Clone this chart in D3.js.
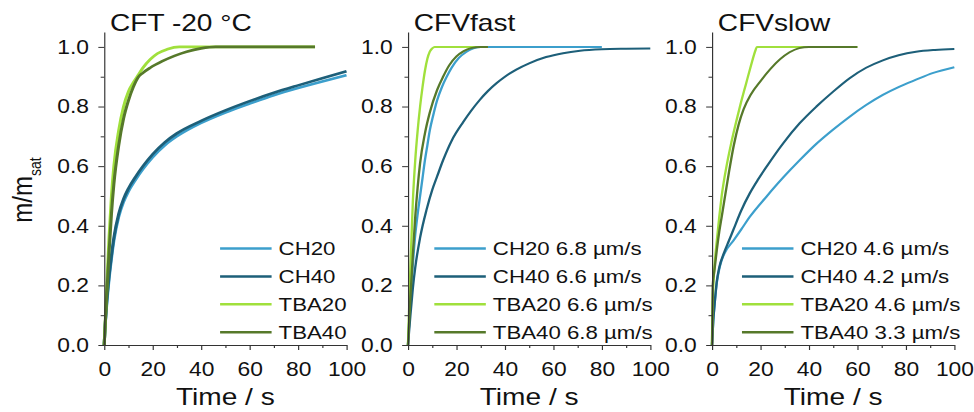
<!DOCTYPE html>
<html>
<head>
<meta charset="utf-8">
<script src="https://cdn.jsdelivr.net/npm/d3@7"></script>
<style>
  body { margin: 0; background: #fff; }
</style>
</head>
<body>
<div id="chart"></div>
<script>
const seriesNames = ["CH20", "CH40", "TBA20", "TBA40"]
const seriesColors = ["#3c9fcc", "#1d5f79", "#a0e03c", "#56792a"]
const panelTitles = ["CFT -20 °C", "CFVfast", "CFVslow"]
const legendLabels = [
    ["CH20", "CH40", "TBA20", "TBA40"],
    ["CH20 6.8 µm/s", "CH40 6.6 µm/s", "TBA20 6.6 µm/s", "TBA40 6.8 µm/s"],
    ["CH20 4.6 µm/s", "CH40 4.2 µm/s", "TBA20 4.6 µm/s", "TBA40 3.3 µm/s"],
]
const xTicks = [0, 20, 40, 60, 80, 100]
const xMinor = [10, 30, 50, 70, 90]
const yTicks = [0, 0.2, 0.4, 0.6, 0.8, 1.0]
const yMinor = [0.1, 0.3, 0.5, 0.7, 0.9]

// [time (s), m/m_sat]
const cftCH20 = [[0,0],[0.3,0.05],[1,0.13],[2,0.22],[3,0.29],[4,0.35],[6,0.43],[8,0.48],[10,0.515],[13,0.555],[16,0.59],[20,0.63],[25,0.67],[30,0.70],[40,0.745],[50,0.78],[60,0.81],[70,0.838],[80,0.862],[90,0.884],[100,0.905]]
const cftCH40 = [[0,0],[0.3,0.05],[1,0.14],[2,0.23],[3,0.3],[4,0.36],[6,0.44],[8,0.49],[10,0.525],[13,0.565],[16,0.6],[20,0.64],[25,0.68],[30,0.71],[40,0.752],[50,0.787],[60,0.818],[70,0.846],[80,0.871],[90,0.895],[100,0.918]]
const cftTBA20 = [[0,0],[1,0.18],[2,0.36],[3,0.5],[4,0.6],[6,0.72],[8,0.8],[10,0.85],[12,0.88],[14,0.905],[16,0.93],[19,0.958],[22,0.978],[26,0.992],[31,1],[87,1]]
const cftTBA40 = [[0,0],[1,0.16],[2,0.31],[3,0.44],[4,0.54],[6,0.67],[8,0.76],[10,0.82],[12,0.865],[14,0.898],[16,0.913],[19,0.93],[24,0.952],[29,0.97],[34,0.984],[40,0.995],[46,1],[87,1]]

const fastCH20 = [[0,0],[1,0.15],[2,0.27],[3,0.37],[4,0.44],[5,0.5],[6,0.56],[7,0.62],[8,0.67],[9,0.72],[10.4,0.77],[12,0.82],[14,0.865],[16,0.9],[18,0.93],[21,0.963],[24,0.983],[27,0.995],[30,1],[80,1]]
const fastCH40 = [[0,0],[1,0.1],[2,0.19],[3,0.26],[5,0.36],[7.7,0.455],[10,0.52],[12,0.565],[14.5,0.62],[18,0.685],[22.8,0.748],[26,0.785],[29.6,0.822],[33,0.852],[36.5,0.878],[40,0.9],[44.7,0.924],[50,0.945],[57,0.966],[64,0.979],[71,0.987],[80,0.992],[90,0.994],[100,0.995]]
const fastTBA20 = [[0,0],[0.5,0.13],[1,0.26],[2,0.48],[3,0.62],[4,0.72],[5,0.8],[6,0.865],[7,0.92],[8,0.96],[9,0.984],[10,0.995],[11,1],[33,1]]
const fastTBA40 = [[0,0],[1,0.16],[2,0.3],[3,0.43],[4,0.53],[5,0.61],[7,0.71],[9,0.78],[12,0.855],[14.5,0.9],[17,0.938],[20,0.968],[23,0.986],[26,0.996],[30,1],[33,1]]

const slowCH20 = [[0,0],[0.5,0.08],[1,0.13],[2,0.21],[3,0.255],[4,0.285],[5.3,0.31],[8.8,0.35],[12,0.387],[15.6,0.43],[22.5,0.498],[29.4,0.562],[36.2,0.62],[43.1,0.675],[49.9,0.722],[56.8,0.766],[63.6,0.805],[70.5,0.839],[77.4,0.867],[84.2,0.89],[91,0.912],[100,0.932]]
const slowCH40 = [[0,0],[0.5,0.08],[1,0.13],[2,0.215],[3,0.26],[5,0.31],[7,0.35],[8.8,0.386],[12,0.45],[15.6,0.509],[19,0.555],[22.5,0.598],[29.4,0.677],[36.2,0.744],[43.1,0.8],[50,0.85],[56.8,0.895],[63.6,0.93],[70.5,0.955],[77,0.972],[84.2,0.984],[92,0.99],[100,0.993]]
const slowTBA20 = [[0,0],[0.3,0.15],[1,0.26],[2,0.35],[3,0.43],[4,0.5],[6,0.6],[8,0.68],[10,0.75],[12,0.815],[14,0.875],[16,0.935],[18,0.99],[18.5,1],[60,1]]
const slowTBA40 = [[0,0],[0.3,0.2],[1,0.25],[2,0.32],[3,0.38],[4,0.43],[5,0.48],[7,0.58],[9,0.67],[11,0.74],[13,0.79],[16,0.84],[20,0.885],[24,0.925],[28,0.958],[32,0.982],[36,0.996],[40,1],[60,1]]

const panelData = [
    [cftCH20, cftCH40, cftTBA20, cftTBA40],
    [fastCH20, fastCH40, fastTBA20, fastTBA40],
    [slowCH20, slowCH40, slowTBA20, slowTBA40],
]

// the figure is drawn narrower and stretched to the page width (text looks wide)
const width = 974, height = 412
const innerW = 832
const fontFamily = "'Liberation Sans', Arial, sans-serif"
const panelLeft = [89, 348.5, 608.2]
const plotW = 207
const yTop = 32, yBottom = 345
const legendOffset = [99, 22.5, 25.6] // legend line start, relative to the y axis
const lineWidths = [2.6, 2, 2]

const svg = d3.select("#chart").append("svg")
    .attr("width", width)
    .attr("height", height)
    .attr("viewBox", [0, 0, innerW, height])
    .attr("preserveAspectRatio", "none")
    .style("font-family", fontFamily)

const y = d3.scaleLinear([0, 1.05], [yBottom, yTop])

panelData.forEach((series, p) => {
    const left = panelLeft[p]
    const x = d3.scaleLinear([0, 100], [left, left + plotW])
    const g = svg.append("g")

    // curves
    const line = d3.line()
        .x(d => x(d[0]))
        .y(d => y(d[1]))
        .curve(d3.curveMonotoneX)

    series.forEach((pts, i) => {
        g.append("path")
            .attr("d", line(pts))
            .attr("fill", "none")
            .attr("stroke", seriesColors[i])
            .attr("stroke-width", lineWidths[p])
            .attr("stroke-linejoin", "round")
    })

    // axes
    g.append("g")
        .attr("transform", `translate(${left},0)`)
        .call(d3.axisLeft(y).tickValues(yTicks).tickSize(5).tickSizeOuter(0)
            .tickPadding(8).tickFormat(d3.format(".1f")))
        .call(a => a.selectAll("text").attr("font-size", 19.5).attr("fill", "#111"))
        .call(a => a.selectAll("line,path").attr("stroke", "#333"))
        .attr("font-family", null)

    g.append("g")
        .attr("transform", `translate(${left},0)`)
        .call(d3.axisLeft(y).tickValues(yMinor).tickSize(3).tickFormat(""))
        .call(a => a.select(".domain").remove())
        .call(a => a.selectAll("line").attr("stroke", "#333"))

    g.append("g")
        .attr("transform", `translate(0,${yBottom})`)
        .call(d3.axisBottom(x).tickValues(xTicks).tickSize(5).tickSizeOuter(0)
            .tickPadding(12))
        .call(a => a.selectAll("text").attr("font-size", 19.5).attr("fill", "#111"))
        .call(a => a.selectAll("line,path").attr("stroke", "#333"))
        .attr("font-family", null)

    g.append("g")
        .attr("transform", `translate(0,${yBottom})`)
        .call(d3.axisBottom(x).tickValues(xMinor).tickSize(3).tickFormat(""))
        .call(a => a.select(".domain").remove())
        .call(a => a.selectAll("line").attr("stroke", "#333"))

    // title
    g.append("text")
        .attr("x", left + 5)
        .attr("y", 31)
        .attr("font-size", 24)
        .attr("fill", "#111")
        .text(panelTitles[p])

    // x label
    g.append("text")
        .attr("x", left + plotW / 2)
        .attr("y", 405)
        .attr("text-anchor", "middle")
        .attr("font-size", 24)
        .attr("fill", "#111")
        .text("Time / s")

    // legend
    const lx = left + legendOffset[p]
    const legend = g.append("g")
        .selectAll("g")
        .data(seriesNames)
        .join("g")
        .attr("transform", (d, i) => `translate(${lx},${248.5 + i * 27.9})`)

    legend.append("line")
        .attr("x1", 0)
        .attr("x2", 44)
        .attr("stroke", (d, i) => seriesColors[i])
        .attr("stroke-width", 2.5)

    legend.append("text")
        .attr("x", 50)
        .attr("dy", "0.35em")
        .attr("font-size", 19)
        .attr("fill", "#111")
        .text((d, i) => legendLabels[p][i])
})

// y label with subscript
const yl = svg.append("text")
    .attr("transform", "translate(27.3,190) rotate(-90)")
    .attr("text-anchor", "middle")
    .attr("font-size", 24)
    .attr("fill", "#111")
yl.append("tspan").text("m/m")
yl.append("tspan").attr("font-size", 14).attr("dy", 8).text("sat")
</script>
</body>
</html>
